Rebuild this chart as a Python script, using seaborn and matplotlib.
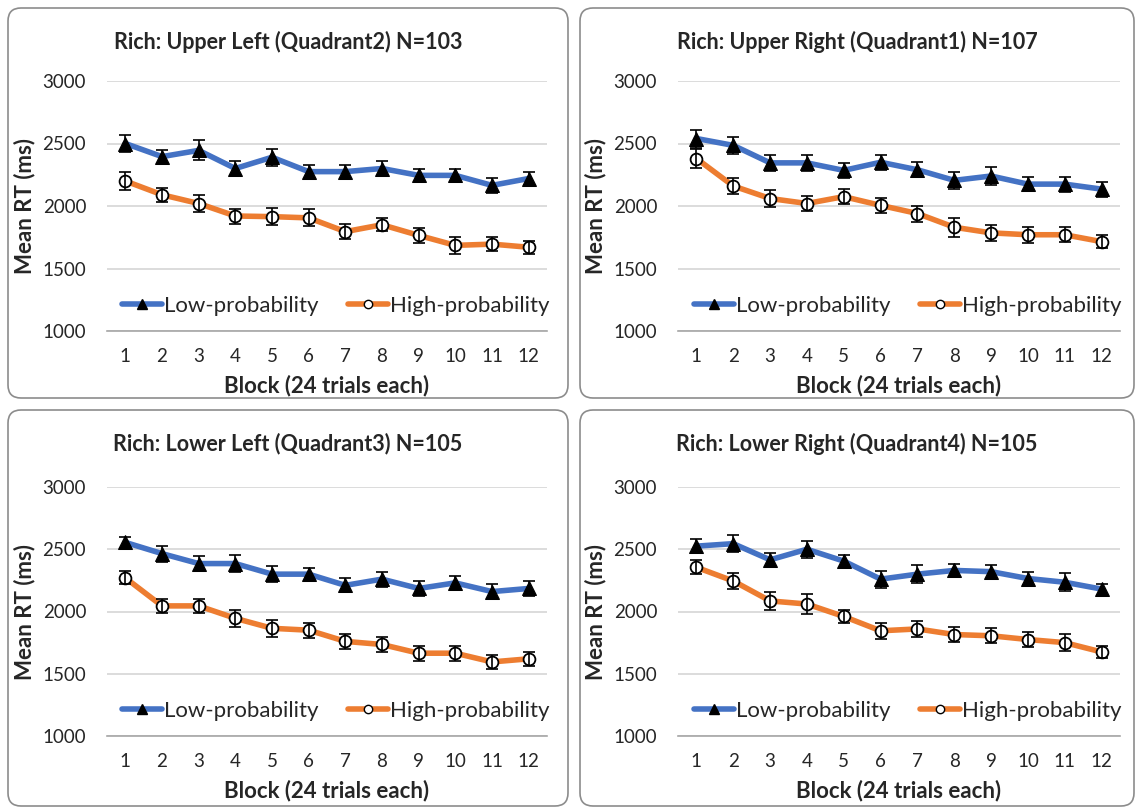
import matplotlib
matplotlib.use("Agg")
import matplotlib.pyplot as plt
from matplotlib.patches import FancyBboxPatch
from matplotlib.lines import Line2D
import seaborn as sns
import numpy as np

# Data (mean RT in ms, with error bars)
blocks = list(range(1, 13))

ul_low = [2500, 2395, 2445, 2300, 2390, 2275, 2275, 2300, 2245, 2245, 2165, 2220]
ul_low_err = [70, 55, 80, 57, 70, 57, 57, 57, 55, 55, 57, 55]
ul_high = [2200, 2090, 2020, 1920, 1915, 1905, 1795, 1850, 1765, 1685, 1695, 1670]
ul_high_err = [72, 58, 70, 60, 68, 68, 58, 52, 60, 65, 55, 53]

ur_low = [2540, 2485, 2345, 2345, 2285, 2350, 2290, 2205, 2240, 2175, 2175, 2135]
ur_low_err = [72, 65, 65, 65, 60, 60, 60, 65, 72, 57, 60, 60]
ur_high = [2380, 2160, 2060, 2020, 2075, 2005, 1940, 1830, 1785, 1770, 1770, 1715]
ur_high_err = [74, 66, 65, 60, 58, 60, 64, 74, 64, 62, 60, 53]

ll_low = [2555, 2465, 2385, 2385, 2300, 2300, 2210, 2260, 2185, 2230, 2160, 2185]
ll_low_err = [45, 65, 60, 65, 63, 53, 57, 60, 58, 57, 57, 58]
ll_high = [2270, 2045, 2045, 1945, 1865, 1850, 1760, 1735, 1665, 1665, 1595, 1620]
ll_high_err = [53, 57, 57, 66, 66, 60, 60, 57, 60, 60, 58, 57]

lr_low = [2525, 2545, 2415, 2500, 2405, 2260, 2300, 2330, 2320, 2265, 2235, 2180]
lr_low_err = [58, 66, 58, 70, 52, 68, 70, 50, 55, 55, 72, 44]
lr_high = [2355, 2245, 2085, 2060, 1960, 1845, 1860, 1815, 1805, 1775, 1750, 1675]
lr_high_err = [56, 66, 70, 82, 53, 62, 66, 57, 62, 61, 66, 46]

titles = [
    "Rich: Upper Left (Quadrant2) N=103",
    "Rich: Upper Right (Quadrant1) N=107",
    "Rich: Lower Left (Quadrant3) N=105",
    "Rich: Lower Right (Quadrant4) N=105",
]
series = [
    (ul_low, ul_low_err, ul_high, ul_high_err),
    (ur_low, ur_low_err, ur_high, ur_high_err),
    (ll_low, ll_low_err, ll_high, ll_high_err),
    (lr_low, lr_low_err, lr_high, lr_high_err),
]
y_ticks = [1000, 1500, 2000, 2500, 3000]

BLUE = "#4472C4"
ORANGE = "#ED7D31"
GRID = "#D9D9D9"
AXIS = "#A6A6A6"
FONT = ["Lato", "DejaVu Sans"]

sns.set_theme(style="white")
plt.rcParams["font.family"] = FONT

W, H = 1136, 807
fig = plt.figure(figsize=(W / 100, H / 100), dpi=100)

# panel boxes (pixels: left, top, right, bottom) and axes rectangles
boxes = [(8, 8, 568, 398), (580, 8, 1134, 398), (8, 410, 568, 806), (580, 410, 1134, 806)]
axes_px = [(107, 81, 547, 331), (678, 81, 1120, 331), (107, 487, 547, 736), (678, 487, 1120, 736)]

for i in range(4):
    bl, bt, br, bb = boxes[i]
    box = FancyBboxPatch((bl / 100, (H - bb) / 100), (br - bl) / 100, (bb - bt) / 100,
                         boxstyle="round,pad=0,rounding_size=0.13",
                         transform=fig.dpi_scale_trans, facecolor="none",
                         edgecolor="#8C8C8C", linewidth=1.2)
    fig.patches.append(box)

    al, at, ar, ab = axes_px[i]
    ax = fig.add_axes([al / W, 1 - ab / H, (ar - al) / W, (ab - at) / H])
    low, low_err, high, high_err = series[i]

    sns.lineplot(x=blocks, y=low, ax=ax, color=BLUE, linewidth=4, marker="^",
                 markersize=10.5, markerfacecolor="black", markeredgecolor="black", zorder=3)
    sns.lineplot(x=blocks, y=high, ax=ax, color=ORANGE, linewidth=4, marker="o",
                 markersize=8.5, markerfacecolor="white", markeredgecolor="black",
                 markeredgewidth=1.3, zorder=3)
    ax.errorbar(blocks, low, yerr=low_err, fmt="none", ecolor="black",
                elinewidth=1.2, capsize=4, capthick=1.2, zorder=4)
    ax.errorbar(blocks, high, yerr=high_err, fmt="none", ecolor="black",
                elinewidth=1.2, capsize=4, capthick=1.2, zorder=4)

    ax.set_xlim(0.5, 12.5)
    ax.set_ylim(1000, 3000)
    ax.set_yticks(y_ticks)
    ax.set_yticklabels([str(t) for t in y_ticks])
    ax.set_xticks(blocks)
    ax.set_xticklabels([str(b) for b in blocks])
    ax.set_xticks(np.arange(0.5, 13, 1), minor=True)
    ax.tick_params(axis="x", which="major", direction="inout", length=5, width=1,
                   color=AXIS, labelsize=13.5, pad=10)
    ax.tick_params(axis="x", which="minor", direction="inout", length=9, width=1, color=AXIS)
    ax.tick_params(axis="y", length=0, labelsize=13.5, pad=15)
    ax.grid(axis="y", color=GRID, linewidth=1.3)
    ax.grid(axis="x", visible=False)
    ax.set_axisbelow(True)
    for s in ["top", "right", "left"]:
        ax.spines[s].set_visible(False)
    ax.spines["bottom"].set_color(AXIS)
    ax.spines["bottom"].set_linewidth(1.2)
    ax.spines["bottom"].set_zorder(2)

    ax.set_xlabel("Block (24 trials each)", fontsize=16, fontweight="bold", labelpad=7)
    ax.set_ylabel("Mean RT (ms)", fontsize=16, fontweight="bold", labelpad=5)

    handles = [
        Line2D([], [], color=BLUE, linewidth=4, marker="^", markersize=7.5,
               markerfacecolor="black", markeredgecolor="black"),
        Line2D([], [], color=ORANGE, linewidth=4, marker="o", markersize=6,
               markerfacecolor="white", markeredgecolor="black", markeredgewidth=1),
    ]
    ax.legend(handles, ["Low-probability", "High-probability"], loc="center",
              bbox_to_anchor=(0.52, 0.1), ncol=2, frameon=False, fontsize=16,
              handlelength=1.8, handletextpad=0.1, columnspacing=1.3)

    fig.text(((bl + br) / 2) / W, 1 - (bt + 34) / H, titles[i], ha="center", va="center",
             fontsize=15.5, fontweight="bold")

fig.savefig("out.png", dpi=100)
